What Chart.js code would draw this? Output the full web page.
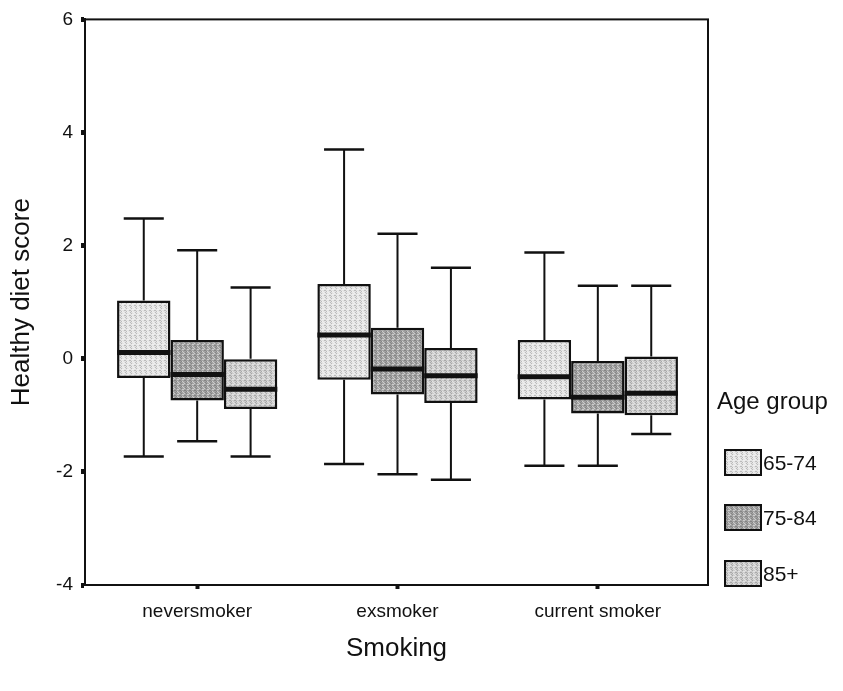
<!DOCTYPE html>
<html>
<head>
<meta charset="utf-8">
<script src="https://cdn.jsdelivr.net/npm/chart.js@4"></script>
<style>
    html, body { margin: 0; padding: 0; background: #fff; }
    #wrap { position: relative; width: 843px; height: 691px; font-family: "Liberation Sans", Arial, sans-serif; color: #111; }
    #chart { position: absolute; left: 0; top: 0; }
    .legend-title { position: absolute; left: 717px; top: 389px; font-size: 24px; line-height: 24px; white-space: nowrap; }
    .legend-row { position: absolute; left: 724px; height: 27px; display: flex; align-items: center; }
    .legend-swatch { width: 34px; height: 23px; border: 2px solid #111; }
    .legend-label { font-size: 21px; line-height: 21px; margin-left: 1px; }
</style>
</head>
<body>
<div id="wrap">
    <canvas id="chart" width="843" height="691"></canvas>
    <div class="legend-title">Age group</div>
    <div id="legend"></div>
</div>
<script>
const categories = ["neversmoker", "exsmoker", "current smoker"];
const ageGroups = ["65-74", "75-84", "85+"];
const yTicks = [-4, -2, 0, 2, 4, 6];

// Healthy diet score, one value per smoking category
const low65 = [-1.73, -1.86, -1.89];
const q1_65 = [-0.34, -0.37, -0.72];
const median65 = [0.11, 0.42, -0.32];
const q3_65 = [1.03, 1.32, 0.33];
const high65 = [2.48, 3.70, 1.88];

const low75 = [-1.46, -2.04, -1.89];
const q1_75 = [-0.74, -0.63, -0.97];
const median75 = [-0.28, -0.18, -0.68];
const q3_75 = [0.33, 0.55, -0.04];
const high75 = [1.92, 2.21, 1.29];

const low85 = [-1.73, -2.14, -1.33];
const q1_85 = [-0.89, -0.78, -1.00];
const median85 = [-0.54, -0.30, -0.61];
const q3_85 = [0.00, 0.19, 0.04];
const high85 = [1.26, 1.61, 1.29];

const fills = ["#e4e4e4", "#a2a2a2", "#cdcdcd"];
const FONT = "'Liberation Sans', Arial, sans-serif";

const groups = [
    { low: low65, q1: q1_65, median: median65, q3: q3_65, high: high65 },
    { low: low75, q1: q1_75, median: median75, q3: q3_75, high: high75 },
    { low: low85, q1: q1_85, median: median85, q3: q3_85, high: high85 }
];

// small fixed dot texture so the fills look stippled like a print
const dots = [[0, 0], [2, 1], [1, 3], [3, 2], [0, 2], [2, 4], [4, 0], [4, 3], [1, 1], [3, 4]];
function stippleTile(base) {
    const c = document.createElement("canvas");
    c.width = 5; c.height = 5;
    const g = c.getContext("2d");
    g.fillStyle = base;
    g.fillRect(0, 0, 5, 5);
    dots.forEach(([x, y], k) => {
        g.fillStyle = k % 2 ? "rgba(255,255,255,0.45)" : "rgba(0,0,0,0.18)";
        g.fillRect(x, y, 1, 1);
    });
    return c;
}
const tiles = fills.map(stippleTile);
const patterns = tiles.map((t) => t.getContext("2d").createPattern(t, "repeat"));

// whiskers, caps and median bars on top of the floating boxes
const boxExtras = {
    id: "boxExtras",
    afterDatasetsDraw(chart) {
        const { ctx } = chart;
        const y = chart.scales.y;
        ctx.save();
        ctx.strokeStyle = "#111";
        ctx.lineCap = "butt";
        groups.forEach((g, d) => {
            chart.getDatasetMeta(d).data.forEach((bar, i) => {
                const half = bar.width / 2;
                const cap = bar.width * 0.375;
                const top = y.getPixelForValue(g.q3[i]);
                const bottom = y.getPixelForValue(g.q1[i]);
                const hi = y.getPixelForValue(g.high[i]);
                const lo = y.getPixelForValue(g.low[i]);
                ctx.lineWidth = 2;
                ctx.beginPath();
                ctx.moveTo(bar.x, top); ctx.lineTo(bar.x, hi);
                ctx.moveTo(bar.x, bottom); ctx.lineTo(bar.x, lo);
                ctx.stroke();
                ctx.lineWidth = 2.5;
                ctx.beginPath();
                ctx.moveTo(bar.x - cap, hi); ctx.lineTo(bar.x + cap, hi);
                ctx.moveTo(bar.x - cap, lo); ctx.lineTo(bar.x + cap, lo);
                ctx.stroke();
                const m = y.getPixelForValue(g.median[i]);
                ctx.lineWidth = 5;
                ctx.beginPath();
                ctx.moveTo(bar.x - half, m); ctx.lineTo(bar.x + half, m);
                ctx.stroke();
            });
        });
        // closing frame around the plot
        const a = chart.chartArea;
        ctx.lineWidth = 2;
        ctx.strokeRect(a.left, a.top, a.right - a.left, a.bottom - a.top);
        ctx.restore();
    }
};

new Chart(document.getElementById("chart"), {
    type: "bar",
    data: {
        datasets: groups.map((g, d) => ({
            label: ageGroups[d],
            data: categories.map((c, i) => ({ x: i, y: [g.q1[i], g.q3[i]] })),
            backgroundColor: patterns[d],
            borderColor: "#111",
            borderWidth: 2.5,
            borderSkipped: false,
            categoryPercentage: 0.8,
            barPercentage: 1.0
        }))
    },
    options: {
        responsive: false,
        animation: false,
        layout: { padding: { top: 15, right: 135, left: 0, bottom: 0 } },
        plugins: { legend: { display: false }, tooltip: { enabled: false } },
        scales: {
            x: {
                type: "linear",
                offset: false,
                min: -0.56,
                max: 2.55,
                afterBuildTicks: (scale) => { scale.ticks = categories.map((c, i) => ({ value: i })); },
                afterFit: (scale) => { scale.height = 106; },
                grid: { offset: false, drawOnChartArea: false, drawTicks: true, tickLength: 4, tickWidth: 4, color: "#111" },
                border: { display: true, color: "#111", width: 2 },
                ticks: {
                    color: "#111",
                    padding: 11,
                    maxRotation: 0,
                    autoSkip: false,
                    font: { family: FONT, size: 19 },
                    callback: (v) => categories[v]
                },
                title: {
                    display: true,
                    text: "Smoking",
                    color: "#111",
                    font: { family: FONT, size: 26 },
                    padding: { top: 0, bottom: 27 }
                }
            },
            y: {
                min: -4,
                max: 6,
                afterBuildTicks: (scale) => { scale.ticks = yTicks.map((v) => ({ value: v })); },
                afterFit: (scale) => { scale.width = 85; },
                grid: { drawOnChartArea: false, drawTicks: true, tickLength: 4, tickWidth: 5, color: "#111" },
                border: { display: true, color: "#111", width: 2 },
                ticks: { color: "#111", padding: 8, font: { family: FONT, size: 19 } },
                title: {
                    display: true,
                    text: "Healthy diet score",
                    color: "#111",
                    font: { family: FONT, size: 26 },
                    padding: { top: 6, bottom: 0 }
                }
            }
        }
    },
    plugins: [boxExtras]
});

// legend rows next to the plot, swatches share the box texture
const legendTops = [449, 504, 560];
document.getElementById("legend").innerHTML = ageGroups.map((name, d) => `
    <div class="legend-row" style="top:${legendTops[d]}px">
        <div class="legend-swatch" style="background:${fills[d]} url(${tiles[d].toDataURL()}) repeat"></div>
        <div class="legend-label">${name}</div>
    </div>`).join("");
</script>
</body>
</html>
